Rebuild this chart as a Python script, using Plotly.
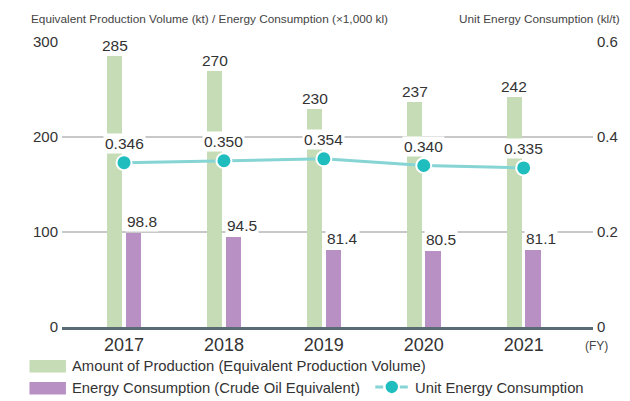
import plotly.graph_objects as go

years = ["2017", "2018", "2019", "2020", "2021"]
production = [285, 270, 230, 237, 242]
energy = [98.8, 94.5, 81.4, 80.5, 81.1]
unit_energy = [0.346, 0.350, 0.354, 0.340, 0.335]
unit_labels = ["0.346", "0.350", "0.354", "0.340", "0.335"]
left_ticks = [0, 100, 200, 300]
right_ticks = [0, 0.2, 0.4, 0.6]
right_tick_text = ["0", "0.2", "0.4", "0.6"]

GREEN = "#c6dcb6"
PURPLE = "#b890c4"
TEAL = "#1fbdbd"
TEAL_LIGHT = "#86d4d4"
TXT = "#333333"
FONT = "Liberation Sans"

W, H = 630, 401
L, R, T, B = 62, 29, 42, 74
PW = W - L - R
PH = H - T - B
G_OFF, G_W = -0.168, 0.152
P_OFF, P_W = 0.017, 0.155

xi = list(range(len(years)))


def px(xp):
    return (xp - L) / PW


def py(yp):
    return (H - B - yp) / PH


fig = go.Figure()
fig.add_trace(go.Bar(x=xi, y=production, width=G_W, offset=G_OFF,
                     marker=dict(color=GREEN, line=dict(width=0)),
                     name="Amount of Production (Equivalent Production Volume)"))
fig.add_trace(go.Bar(x=xi, y=energy, width=P_W, offset=P_OFF,
                     marker=dict(color=PURPLE, line=dict(width=0)),
                     name="Energy Consumption (Crude Oil Equivalent)"))
fig.add_trace(go.Scatter(x=xi, y=unit_energy, yaxis="y2", mode="lines+markers",
                         line=dict(color=TEAL_LIGHT, width=3),
                         marker=dict(color=TEAL, size=15, line=dict(color="white", width=2)),
                         name="Unit Energy Consumption"))

ann = []
for i in xi:
    ann.append(dict(x=i + G_OFF + G_W / 2, y=production[i], xref="x", yref="y", text=str(production[i]),
                    showarrow=False, yanchor="bottom", xanchor="center", yshift=0,
                    bgcolor="white", font=dict(family=FONT, size=15.5, color=TXT)))
    ann.append(dict(x=i + P_OFF, y=energy[i], xref="x", yref="y", text=f"{energy[i]:.1f}",
                    showarrow=False, yanchor="bottom", xanchor="left", xshift=-1, yshift=1,
                    bgcolor="white", font=dict(family=FONT, size=15.5, color=TXT)))
    ann.append(dict(x=i, y=unit_energy[i], xref="x", yref="y2", text=unit_labels[i],
                    showarrow=False, yanchor="bottom", xanchor="center", yshift=9,
                    bgcolor="white", font=dict(family=FONT, size=15.5, color=TXT)))

# headers
ann.append(dict(x=px(29), y=py(19), xref="paper", yref="paper", xanchor="left", yanchor="middle",
                text="Equivalent Production Volume (kt) / Energy Consumption (×1,000 kl)",
                showarrow=False, font=dict(family=FONT, size=11.8, color="#444444")))
ann.append(dict(x=px(630), y=py(19), xref="paper", yref="paper", xanchor="right", yanchor="middle",
                text="Unit Energy Consumption (kl/t)",
                showarrow=False, font=dict(family=FONT, size=11.8, color="#444444")))
ann.append(dict(x=px(591), y=py(346), xref="paper", yref="paper", xanchor="left", yanchor="middle",
                text="(FY)", showarrow=False, font=dict(family=FONT, size=12, color="#444444")))

# legend
legend_font = dict(family=FONT, size=14.8, color=TXT)
ann.append(dict(x=px(70), y=py(366), xref="paper", yref="paper", xanchor="left", yanchor="middle",
                text="Amount of Production (Equivalent Production Volume)", showarrow=False, font=legend_font))
ann.append(dict(x=px(70), y=py(388), xref="paper", yref="paper", xanchor="left", yanchor="middle",
                text="Energy Consumption (Crude Oil Equivalent)", showarrow=False, font=legend_font))
ann.append(dict(x=px(418), y=py(388), xref="paper", yref="paper", xanchor="left", yanchor="middle",
                text="Unit Energy Consumption", showarrow=False, font=legend_font))

shapes = [
    dict(type="rect", xref="paper", yref="paper", x0=px(29), x1=px(66), y0=py(360), y1=py(372.5),
         fillcolor=GREEN, line=dict(width=0)),
    dict(type="rect", xref="paper", yref="paper", x0=px(29), x1=px(66), y0=py(382), y1=py(394.5),
         fillcolor=PURPLE, line=dict(width=0)),
    dict(type="line", xref="paper", yref="paper", x0=px(380), x1=px(388), y0=py(387), y1=py(387),
         line=dict(color=TEAL_LIGHT, width=3)),
    dict(type="line", xref="paper", yref="paper", x0=px(405), x1=px(413), y0=py(387), y1=py(387),
         line=dict(color=TEAL_LIGHT, width=3)),
    dict(type="circle", xref="paper", yref="paper", x0=px(390.5), x1=px(403), y0=py(380.7), y1=py(393.2),
         fillcolor=TEAL, line=dict(width=0)),
]

fig.update_layout(
    width=W, height=H, margin=dict(l=L, r=R, t=T, b=B),
    paper_bgcolor="white", plot_bgcolor="white", showlegend=False,
    bargap=0, annotations=ann, shapes=shapes,
    xaxis=dict(range=[-0.621, 4.694], tickvals=xi, ticktext=years, showgrid=False, zeroline=False,
               showline=True, linecolor="#5b6b74", linewidth=2.5, ticks="",
               tickfont=dict(family=FONT, size=18, color=TXT), ticklabelstandoff=0),
    yaxis=dict(range=[0, 300], tickvals=left_ticks, showgrid=True, gridcolor="#c8c8c8", gridwidth=1.5,
               zeroline=False, showline=False, ticks="",
               tickfont=dict(family=FONT, size=15, color=TXT), ticklabelstandoff=3),
    yaxis2=dict(range=[0, 0.6], tickvals=right_ticks, ticktext=right_tick_text, overlaying="y",
                side="right", showgrid=False, zeroline=False, showline=False, ticks="",
                tickfont=dict(family=FONT, size=15, color=TXT), ticklabelstandoff=3),
)

fig.write_html(
    "out.html", config={"displayModeBar": False},
    post_script=("document.body.style.margin='0';"
                 "document.body.style.overflow='hidden';"
                 "document.documentElement.style.overflow='hidden';"),
)
